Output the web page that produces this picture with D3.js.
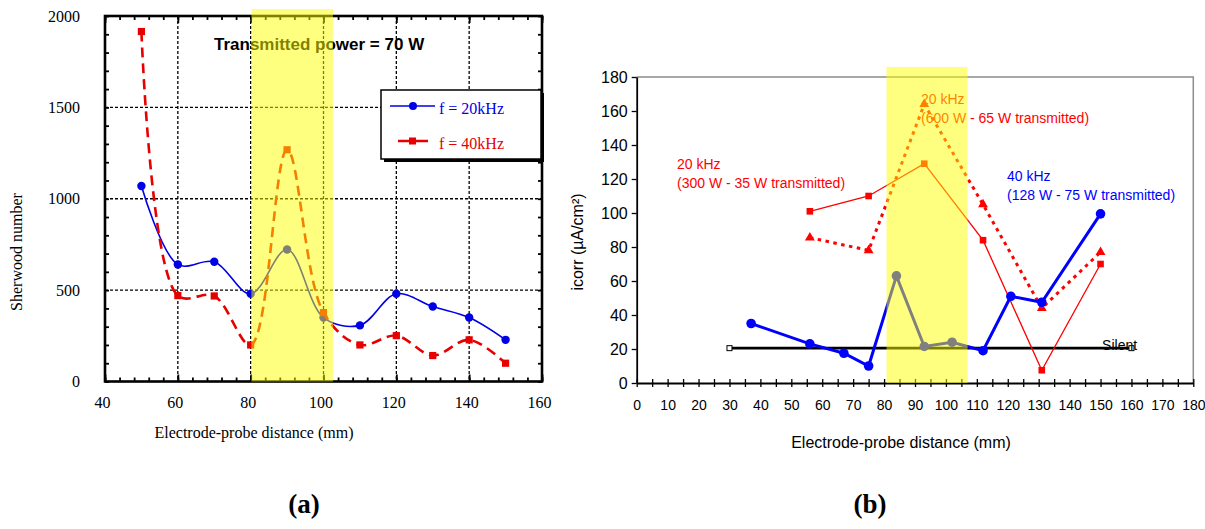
<!DOCTYPE html>
<html lang="en">
<head>
<meta charset="UTF-8">
<title>Sherwood number and icorr vs electrode-probe distance</title>
<script src="https://cdn.jsdelivr.net/npm/d3@7"></script>
<style>
  body { margin: 0; background: #fff; }
  svg { display: block; }
</style>
</head>
<body>
<div id="chart"></div>
<script>
// ---- panel (a): Sherwood number vs distance ----
var distA = [50, 60, 70, 80, 90, 100, 110, 120, 130, 140, 150];
var sh20 = [1070, 640, 655, 480, 722, 350, 307, 480, 410, 350, 228];
var sh40 = [1915, 470, 468, 200, 1268, 377, 200, 251, 142, 228, 100];
var xTicksA = [40, 60, 80, 100, 120, 140, 160];
var yTicksA = [0, 500, 1000, 1500, 2000];
var bandA = [80.2, 102.6];

// ---- panel (b): icorr vs distance ----
var dist40 = [37, 56, 67, 75, 84, 93, 102, 112, 121, 131, 150];
var icorr40 = [35, 23, 17.5, 10, 63, 21.5, 24, 19, 51, 47.5, 99.5];
var dist20 = [56, 75, 93, 112, 131, 150];
var icorr20low = [101, 110, 129, 84, 7.5, 70];    // 300 W - 35 W transmitted
var icorr20high = [85.5, 78, 164, 105, 44, 77];   // 600 W - 65 W transmitted
var silentX = [30, 160];
var silentY = [20.5, 20.5];
var xTicksB = d3.range(0, 181, 10);
var yTicksB = d3.range(0, 181, 20);
var bandB = [80.8, 107];

var serif = "'Liberation Serif', 'Times New Roman', serif";
var sans = "'Liberation Sans', Arial, sans-serif";

var svg = d3.select("#chart").append("svg")
    .attr("width", 1205)
    .attr("height", 529);

// =================== panel (a) ===================
var xA = d3.scaleLinear().domain([40, 160]).range([105, 542]);
var yA = d3.scaleLinear().domain([0, 2000]).range([381.5, 16]);
var gA = svg.append("g");

// dotted grid
gA.selectAll(".vgrid").data(xTicksA.slice(1, -1)).enter().append("line")
    .attr("x1", function (d) { return xA(d); })
    .attr("x2", function (d) { return xA(d); })
    .attr("y1", yA(2000)).attr("y2", yA(0))
    .attr("stroke", "#000").attr("stroke-width", 1.3).attr("stroke-dasharray", "3,2");
gA.selectAll(".hgrid").data(yTicksA.slice(1, -1)).enter().append("line")
    .attr("x1", xA(40)).attr("x2", xA(160))
    .attr("y1", function (d) { return yA(d); })
    .attr("y2", function (d) { return yA(d); })
    .attr("stroke", "#000").attr("stroke-width", 1.3).attr("stroke-dasharray", "3,2");

// inner ticks on all four sides
function noDomain(g) { g.select(".domain").remove(); }
gA.append("g").attr("transform", "translate(0," + yA(0) + ")")
    .call(d3.axisTop(xA).tickValues(d3.range(40, 161, 4)).tickSize(4).tickFormat(""))
    .call(noDomain);
gA.append("g").attr("transform", "translate(0," + yA(0) + ")")
    .call(d3.axisTop(xA).tickValues(xTicksA).tickSize(7).tickFormat(""))
    .call(noDomain);
gA.append("g").attr("transform", "translate(0," + yA(2000) + ")")
    .call(d3.axisBottom(xA).tickValues(d3.range(40, 161, 4)).tickSize(4).tickFormat(""))
    .call(noDomain);
gA.append("g").attr("transform", "translate(0," + yA(2000) + ")")
    .call(d3.axisBottom(xA).tickValues(xTicksA).tickSize(7).tickFormat(""))
    .call(noDomain);
gA.append("g").attr("transform", "translate(" + xA(40) + ",0)")
    .call(d3.axisRight(yA).tickValues(d3.range(0, 2001, 100)).tickSize(4).tickFormat(""))
    .call(noDomain);
gA.append("g").attr("transform", "translate(" + xA(160) + ",0)")
    .call(d3.axisLeft(yA).tickValues(d3.range(0, 2001, 100)).tickSize(4).tickFormat(""))
    .call(noDomain);
gA.selectAll(".tick line").attr("stroke-width", 1.8);

// tick labels
var axA = gA.append("g").attr("transform", "translate(-3," + yA(0) + ")")
    .call(d3.axisBottom(xA).tickValues(xTicksA).tickSize(0).tickPadding(15))
    .call(noDomain);
var ayA = gA.append("g").attr("transform", "translate(" + xA(40) + ",0)")
    .call(d3.axisLeft(yA).tickValues(yTicksA).tickSize(0).tickPadding(25).tickFormat(d3.format("d")))
    .call(noDomain);
[axA, ayA].forEach(function (g) {
    g.selectAll("text").attr("font-family", serif).attr("font-size", 16).attr("fill", "#000");
});

// frame
gA.append("rect")
    .attr("x", xA(40)).attr("y", yA(2000))
    .attr("width", xA(160) - xA(40)).attr("height", yA(0) - yA(2000))
    .attr("fill", "none").attr("stroke", "#000").attr("stroke-width", 2.6);

// axis titles
gA.append("text")
    .attr("x", 254).attr("y", 438)
    .attr("text-anchor", "middle")
    .attr("font-family", serif).attr("font-size", 16)
    .text("Electrode-probe distance (mm)");
gA.append("text")
    .attr("transform", "translate(22,252) rotate(-90)")
    .attr("text-anchor", "middle")
    .attr("font-family", serif).attr("font-size", 16)
    .text("Sherwood number");

// smoothed series
var lineA = function (xs) {
    return d3.line()
        .x(function (d, i) { return xA(xs[i]); })
        .y(function (d) { return yA(d); })
        .curve(d3.curveCatmullRom.alpha(0.5));
};
var blueA = "#0000e6", redA = "#e60000";
gA.append("path").datum(sh20).attr("d", lineA(distA))
    .attr("fill", "none").attr("stroke", blueA).attr("stroke-width", 1.6);
gA.selectAll(".p20").data(sh20).enter().append("circle")
    .attr("cx", function (d, i) { return xA(distA[i]); })
    .attr("cy", function (d) { return yA(d); })
    .attr("r", 4.2).attr("fill", blueA);
gA.append("path").datum(sh40).attr("d", lineA(distA))
    .attr("fill", "none").attr("stroke", redA).attr("stroke-width", 2.6)
    .attr("stroke-dasharray", "10,6");
gA.selectAll(".p40").data(sh40).enter().append("rect")
    .attr("x", function (d, i) { return xA(distA[i]) - 3.6; })
    .attr("y", function (d) { return yA(d) - 3.6; })
    .attr("width", 7.2).attr("height", 7.2).attr("fill", redA);

// title
gA.append("text")
    .attr("x", 214).attr("y", 50)
    .attr("font-family", sans).attr("font-size", 17).attr("font-weight", "bold")
    .text("Transmitted power = 70 W");

// legend
var leg = gA.append("g").attr("transform", "translate(381,90)");
leg.append("rect").attr("x", 3).attr("y", 3).attr("width", 160).attr("height", 69).attr("fill", "#000");
leg.append("rect").attr("width", 160).attr("height", 69)
    .attr("fill", "#fff").attr("stroke", "#000").attr("stroke-width", 1.5);
leg.append("line").attr("x1", 9).attr("x2", 54).attr("y1", 16).attr("y2", 16)
    .attr("stroke", blueA).attr("stroke-width", 1.6);
leg.append("circle").attr("cx", 32).attr("cy", 16).attr("r", 4).attr("fill", blueA);
leg.append("text").attr("x", 58).attr("y", 24)
    .attr("font-family", serif).attr("font-size", 16).attr("fill", blueA)
    .text("f = 20kHz");
leg.append("line").attr("x1", 17).attr("x2", 52).attr("y1", 51).attr("y2", 51)
    .attr("stroke", redA).attr("stroke-width", 2.6).attr("stroke-dasharray", "12,6");
leg.append("rect").attr("x", 28).attr("y", 47.5).attr("width", 7).attr("height", 7).attr("fill", redA);
leg.append("text").attr("x", 58).attr("y", 59)
    .attr("font-family", serif).attr("font-size", 16).attr("fill", redA)
    .text("f = 40kHz");

// translucent highlight band
gA.append("rect")
    .attr("x", xA(bandA[0])).attr("y", 9)
    .attr("width", xA(bandA[1]) - xA(bandA[0])).attr("height", yA(0) - 9)
    .attr("fill", "#ffff00").attr("fill-opacity", 0.5);

gA.append("text")
    .attr("x", 304).attr("y", 513)
    .attr("text-anchor", "middle")
    .attr("font-family", serif).attr("font-size", 27).attr("font-weight", "bold")
    .text("(a)");

// =================== panel (b) ===================
var xB = d3.scaleLinear().domain([0, 180]).range([636.7, 1193.3]);
var yB = d3.scaleLinear().domain([0, 180]).range([383, 77]);
var gB = svg.append("g");

// plot-area border
gB.append("path")
    .attr("d", "M" + xB(0) + "," + yB(180) + "H" + xB(180) + "V" + yB(0))
    .attr("fill", "none").attr("stroke", "#8c8c8c").attr("stroke-width", 1.5);

var ayB = gB.append("g").attr("transform", "translate(" + xB(0) + ",0)")
    .call(d3.axisLeft(yB).tickValues(yTicksB).tickSize(5).tickSizeOuter(0).tickPadding(4));
var axB = gB.append("g").attr("transform", "translate(0," + yB(0) + ")")
    .call(d3.axisBottom(xB).tickValues(xTicksB).tickSize(0).tickPadding(17));
axB.select(".domain").remove();
gB.append("g").attr("transform", "translate(0," + yB(0) + ")")
    .call(d3.axisBottom(xB).tickValues(d3.range(0, 181, 5)).tickSize(4).tickSizeOuter(0).tickFormat(""));
gB.append("g").attr("transform", "translate(0," + yB(0) + ")")
    .call(d3.axisTop(xB).tickValues(d3.range(0, 181, 5)).tickSize(4).tickFormat(""))
    .call(noDomain);
gB.selectAll(".domain").attr("stroke", "#000").attr("stroke-width", 1.8);
gB.selectAll(".tick line").attr("stroke", "#000").attr("stroke-width", 1.3);
axB.selectAll("text").attr("font-family", sans).attr("font-size", 14).attr("fill", "#000");
ayB.selectAll("text").attr("font-family", sans).attr("font-size", 16).attr("fill", "#000");

gB.append("text")
    .attr("x", 901).attr("y", 448)
    .attr("text-anchor", "middle")
    .attr("font-family", sans).attr("font-size", 16)
    .text("Electrode-probe distance (mm)");
gB.append("text")
    .attr("transform", "translate(583,242) rotate(-90)")
    .attr("text-anchor", "middle")
    .attr("font-family", sans).attr("font-size", 16)
    .text("icorr (\u00b5A/cm\u00b2)");

// silent reference line
gB.append("line")
    .attr("x1", xB(silentX[0])).attr("x2", xB(silentX[1]))
    .attr("y1", yB(silentY[0])).attr("y2", yB(silentY[1]))
    .attr("stroke", "#000").attr("stroke-width", 2.6);
gB.selectAll(".sil").data(silentY).enter().append("rect")
    .attr("x", function (d, i) { return xB(silentX[i]) - 2.5; })
    .attr("y", function (d) { return yB(d) - 2.5; })
    .attr("width", 5).attr("height", 5)
    .attr("fill", "#fff").attr("stroke", "#000").attr("stroke-width", 1);
gB.append("text")
    .attr("x", xB(150.5)).attr("y", yB(19.2))
    .attr("font-family", sans).attr("font-size", 14)
    .text("Silent");

var lineB = function (xs) {
    return d3.line()
        .x(function (d, i) { return xB(xs[i]); })
        .y(function (d) { return yB(d); });
};

// 20 kHz, 300 W - 35 W
gB.append("path").datum(icorr20low).attr("d", lineB(dist20))
    .attr("fill", "none").attr("stroke", "#ff0000").attr("stroke-width", 1.3);
gB.selectAll(".sq").data(icorr20low).enter().append("rect")
    .attr("x", function (d, i) { return xB(dist20[i]) - 3.3; })
    .attr("y", function (d) { return yB(d) - 3.3; })
    .attr("width", 6.6).attr("height", 6.6).attr("fill", "#ff0000");

// 20 kHz, 600 W - 65 W
gB.append("path").datum(icorr20high).attr("d", lineB(dist20))
    .attr("fill", "none").attr("stroke", "#ff0000").attr("stroke-width", 3)
    .attr("stroke-dasharray", "3.5,4.5");
gB.selectAll(".tri").data(icorr20high).enter().append("path")
    .attr("transform", function (d, i) { return "translate(" + xB(dist20[i]) + "," + yB(d) + ")"; })
    .attr("d", d3.symbol().type(d3.symbolTriangle).size(42))
    .attr("fill", "#ff0000");

// 40 kHz
gB.append("path").datum(icorr40).attr("d", lineB(dist40))
    .attr("fill", "none").attr("stroke", "#0000ff").attr("stroke-width", 3);
gB.selectAll(".ci").data(icorr40).enter().append("circle")
    .attr("cx", function (d, i) { return xB(dist40[i]); })
    .attr("cy", function (d) { return yB(d); })
    .attr("r", 4.8).attr("fill", "#0000ff");

// annotations
function note(x, y, lines, color) {
    var t = gB.append("text")
        .attr("font-family", sans).attr("font-size", 14).attr("fill", color);
    lines.forEach(function (s, i) {
        t.append("tspan").attr("x", x).attr("y", y + i * 19).text(s);
    });
}
note(677, 169, ["20 kHz", "(300 W - 35 W transmitted)"], "#ff0000");
note(921, 104, ["20 kHz", "(600 W - 65 W transmitted)"], "#ff0000");
note(1007, 181, ["40 kHz", "(128 W - 75 W transmitted)"], "#0000ff");

// translucent highlight band
gB.append("rect")
    .attr("x", xB(bandB[0])).attr("y", 67)
    .attr("width", xB(bandB[1]) - xB(bandB[0])).attr("height", yB(0) - 67)
    .attr("fill", "#ffff00").attr("fill-opacity", 0.5);

gB.append("text")
    .attr("x", 870).attr("y", 513)
    .attr("text-anchor", "middle")
    .attr("font-family", serif).attr("font-size", 27).attr("font-weight", "bold")
    .text("(b)");
</script>
</body>
</html>
